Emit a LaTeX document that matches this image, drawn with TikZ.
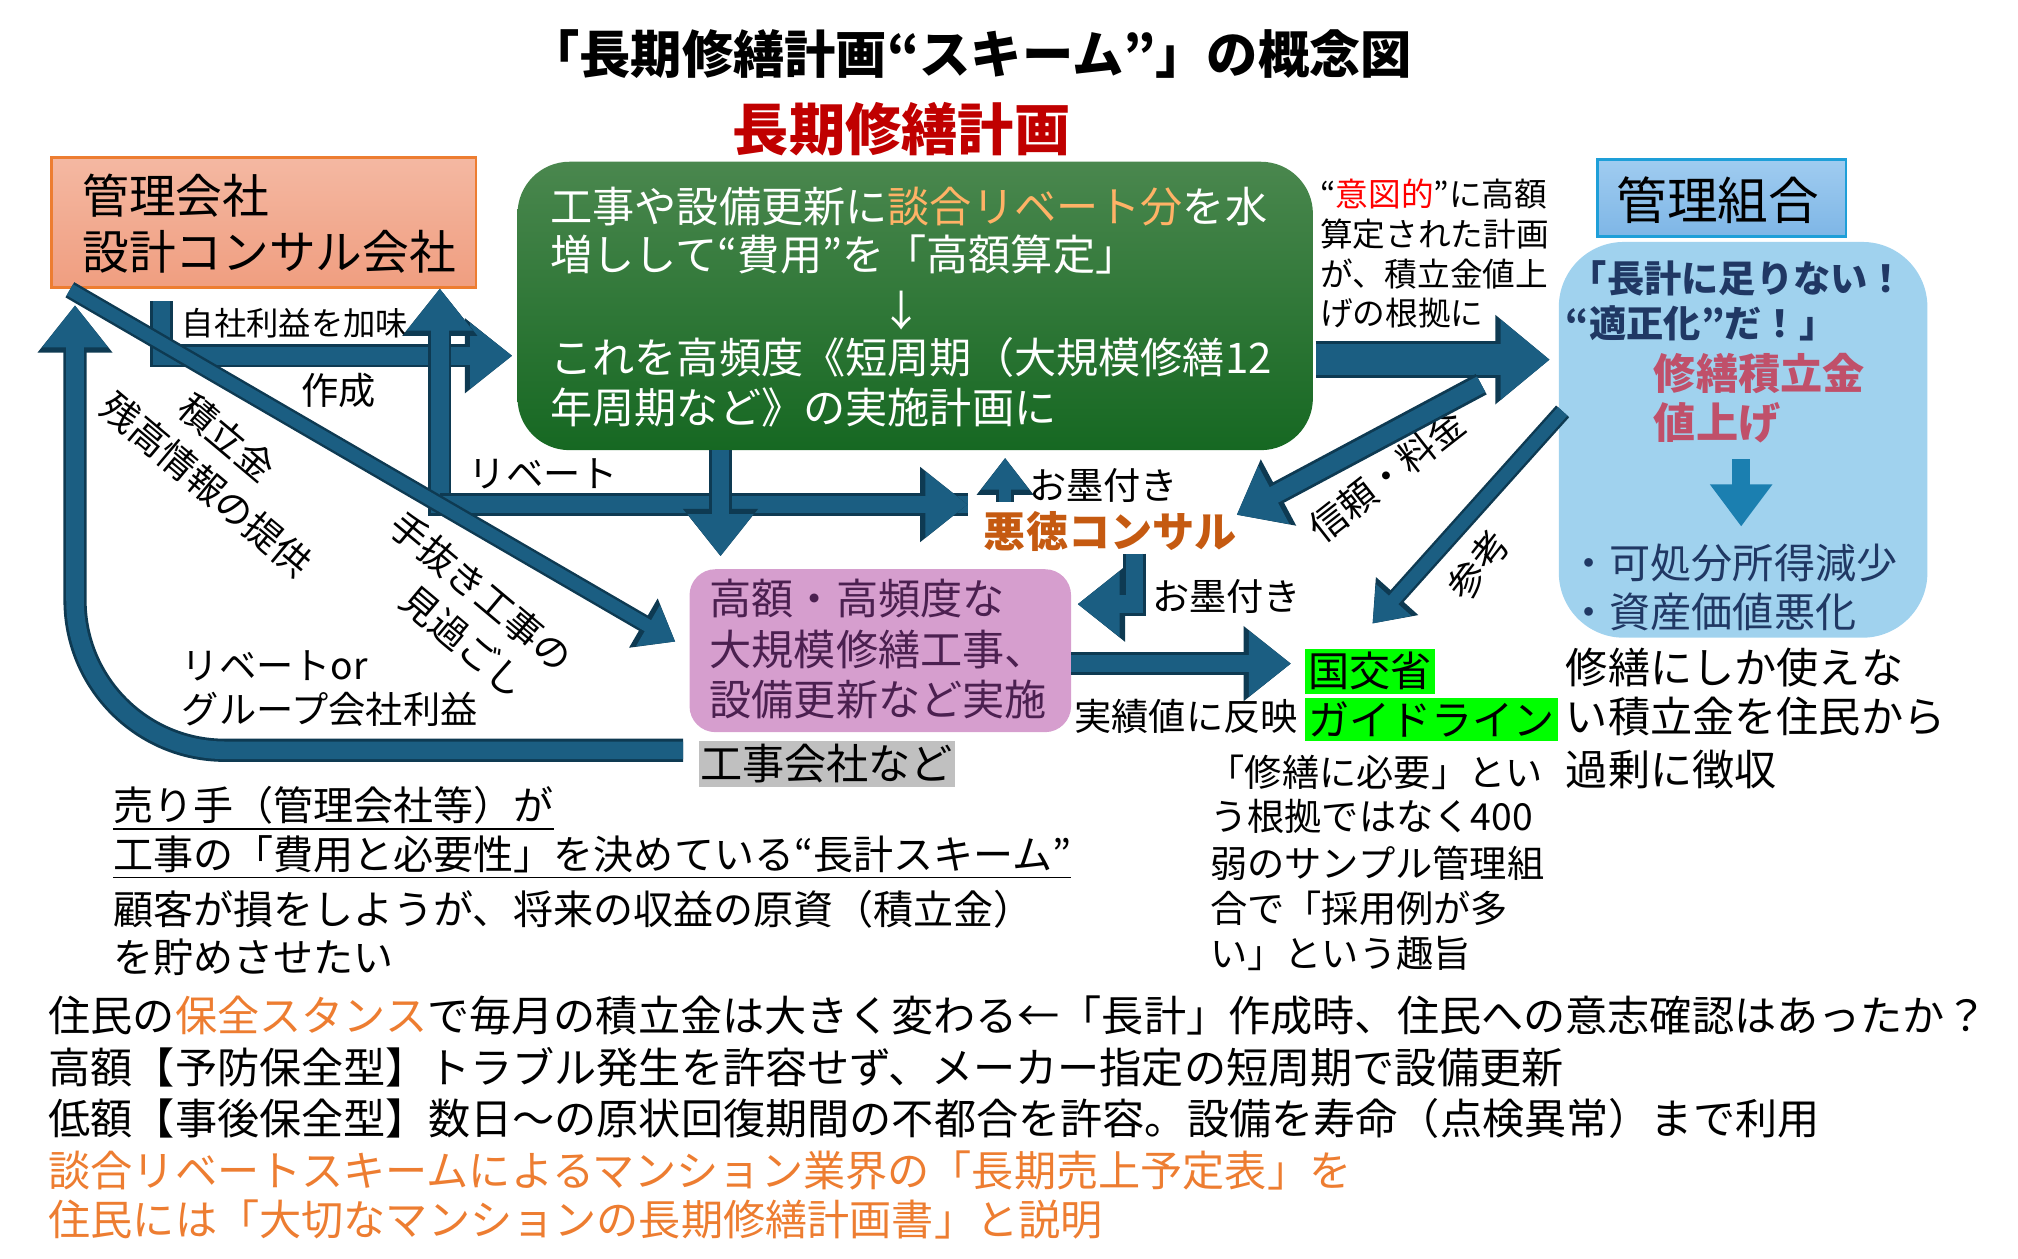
\documentclass[tikz,border=0pt]{standalone}
\usepackage{fontspec}
\setmainfont{Noto Sans CJK JP}
\usetikzlibrary{arrows.meta}
\newcommand\fsz[1]{\fontsize{#1}{#1}\selectfont}
\definecolor{arr}{HTML}{1B5E82}
\definecolor{arrd}{HTML}{0E3A52}
\definecolor{orng}{HTML}{ED7D31}
\definecolor{dred}{HTML}{C00000}
\definecolor{bltx}{HTML}{203864}
\definecolor{pinktx}{HTML}{C0506A}
\definecolor{purtx}{HTML}{4B2050}
\definecolor{consul}{HTML}{C55A11}
\tikzset{
 txt/.style={anchor=west,inner sep=0pt},
 arrA/.style={draw=arr,line width=5pt,-{Triangle[length=12pt,width=18pt]},
   preaction={draw=arrd,line width=6.6pt,-{Triangle[length=13.5pt,width=20.5pt]}}},
 arrB/.style={draw=arr,line width=9pt,-{Triangle[length=14pt,width=22pt]},
   preaction={draw=arrd,line width=10.6pt,-{Triangle[length=15.5pt,width=24.5pt]}}},
 arrC/.style={draw=arr,line width=3.6pt,-{Triangle[length=9pt,width=13pt]},
   preaction={draw=arrd,line width=5pt,-{Triangle[length=10.5pt,width=15.5pt]}}},
}
\begin{document}
\begin{tikzpicture}[x=0.012936cm,y=-0.012936cm]
\useasboundingbox (0,0) rectangle (1560,972.5);
% title
\node[inner sep=0] (title) at (750,42) {\fsz{14.6}\bfseries 「長期修繕計画“スキーム”」の概念図};
\node[inner sep=0,text=dred] (ltitle) at (697,100) {\fsz{16}\bfseries 長期修繕計画};
% boxes
\node[draw=orng,line width=0.8pt,top color={rgb,255:red,244;green,184;blue,162},bottom color={rgb,255:red,240;green,158;blue,128},minimum width=328*0.12936mm,minimum height=100*0.12936mm] (mgmt) at (204,172) {};
\node[txt] (m1) at (55,151) {\fsz{13.3} 管理会社};
\node[txt] (m2) at (55,195) {\fsz{13.3} 設計コンサル会社};
\node[rounded corners=5.2mm,top color={rgb,255:red,74;green,135;blue,78},bottom color={rgb,255:red,22;green,104;blue,34},minimum width=615*0.12936mm,minimum height=223*0.12936mm] (green) at (707.5,236.5) {};
\node[txt,text=white] (g1) at (425,160) {\fsz{12}工事や設備更新に\textcolor{orange!60!white}{談合リベート分}を水};
\node[txt,text=white] (g2) at (425,197) {\fsz{12}増しして“費用”を「高額算定」};
\node[inner sep=0,text=white] (g3) at (697,240) {\fsz{12}↓};
\node[txt,text=white] (g4) at (425,276) {\fsz{12}これを高頻度《短周期（大規模修繕12};
\node[txt,text=white] (g5) at (425,315) {\fsz{12}年周期など》の実施計画に};
\node[draw={rgb,255:red,30;green,159;blue,216},line width=0.8pt,top color={rgb,255:red,160;green,204;blue,240},bottom color={rgb,255:red,126;green,182;blue,230},minimum width=192*0.12936mm,minimum height=60*0.12936mm] (kumiai) at (1331,153) {};
\node[inner sep=0] (k1) at (1328,155) {\fsz{14.4}管理組合};
\node[rounded corners=6.5mm,fill={rgb,255:red,160;green,210;blue,238},minimum width=285*0.12936mm,minimum height=306*0.12936mm] (blue) at (1347.5,340) {};
\node[txt,text=bltx] (b1) at (1213,215) {\fsz{10.6}\bfseries 「長計に足りない！};
\node[txt,text=bltx] (b2) at (1210,250) {\fsz{10.6}\bfseries “適正化”だ！」};
\node[txt,text=pinktx] (b3) at (1278,289) {\fsz{12}\bfseries 修繕積立金};
\node[txt,text=pinktx] (b4) at (1278,327) {\fsz{12}\bfseries 値上げ};
\coordinate (bd1) at (1346,355);
\coordinate (bd2) at (1346,407);
\draw[draw={rgb,255:red,27;green,127;blue,176},line width=5pt,-{Triangle[length=12pt,width=17pt]}] (bd1) -- (bd2);
\node[txt,text=bltx] (b5) at (1212,435) {\fsz{11.7}・可処分所得減少};
\node[txt,text=bltx] (b6) at (1212,473) {\fsz{11.7}・資産価値悪化};
\node[rounded corners=2.6mm,fill={rgb,255:red,214;green,158;blue,206},minimum width=295*0.12936mm,minimum height=126*0.12936mm] (pink) at (680.5,503) {};
\node[txt,text=purtx] (p1) at (548,463) {\fsz{12}高額・高頻度な};
\node[txt,text=purtx] (p2) at (548,502) {\fsz{12}大規模修繕工事、};
\node[txt,text=purtx] (p3) at (548,541) {\fsz{12}設備更新など実施};
\node[fill={rgb,255:red,192;green,192;blue,192},minimum width=198*0.12936mm,minimum height=35*0.12936mm,inner sep=0] (koji) at (639,590.5) {\fsz{12}工事会社など};
\node[txt,text=consul] (akutoku) at (760,411) {\fsz{12}\bfseries 悪徳コンサル};
\node[txt,fill=green,inner sep=1pt] (mlit) at (1008,519) {\fsz{11.7}国交省};
\node[txt,fill=green,inner sep=1pt] (guide) at (1008,556) {\fsz{11.7}ガイドライン};
\node[txt] (jisseki) at (830,554) {\fsz{10.6}実績値に反映};
% annotation top right
\node[txt] (a1) at (1020,150) {\fsz{9.3}“\textcolor{red}{意図的}”に高額};
\node[txt] (a2) at (1020,181) {\fsz{9.3}算定された計画};
\node[txt] (a3) at (1020,212) {\fsz{9.3}が、積立金値上};
\node[txt] (a4) at (1020,242) {\fsz{9.3}げの根拠に};
% right texts
\node[txt] (r1) at (1210,516) {\fsz{12}修繕にしか使えな};
\node[txt] (r2) at (1210,554) {\fsz{12}い積立金を住民から};
\node[txt] (r3) at (1210,595) {\fsz{12}過剰に徴収};
\node[txt] (s1) at (933,597) {\fsz{10.6}「修繕に必要」とい};
\node[txt] (s2) at (935,631) {\fsz{10.6}う根拠ではなく400};
\node[txt] (s3) at (935,667) {\fsz{10.6}弱のサンプル管理組};
\node[txt] (s4) at (935,702) {\fsz{10.6}合で「採用例が多};
\node[txt] (s5) at (935,737) {\fsz{10.6}い」という趣旨};
% bottom-left
\node[txt] (u1) at (87,625) {\fsz{11.4}\underline{売り手（管理会社等）が}};
\node[txt] (u2) at (87,663) {\fsz{11.4}\underline{工事の「費用と必要性」を決めている“長計スキーム”}};
\node[txt] (u3) at (87,703) {\fsz{11.4}顧客が損をしようが、将来の収益の原資（積立金）};
\node[txt] (u4) at (87,740) {\fsz{11.4}を貯めさせたい};
% bottom lines
\node[txt] (l1) at (37,785) {\fsz{12}住民の\textcolor{orng}{保全スタンス}で毎月の積立金は大きく変わる←「長計」作成時、住民への意志確認はあったか？};
\node[txt] (l2) at (37,825) {\fsz{12}高額【予防保全型】トラブル発生を許容せず、メーカー指定の短周期で設備更新};
\node[txt] (l3) at (37,865) {\fsz{12}低額【事後保全型】数日～の原状回復期間の不都合を許容。設備を寿命（点検異常）まで利用};
\node[txt,text=orng] (l4) at (37,905) {\fsz{12}談合リベートスキームによるマンション業界の「長期売上予定表」を};
\node[txt,text=orng] (l5) at (37,943) {\fsz{12}住民には「大切なマンションの長期修繕計画書」と説明};
% arrow labels
\node[txt] (t1) at (140,250) {\fsz{9.2}自社利益を加味};
\node[inner sep=0] (t2) at (262,302) {\fsz{10.6}作成};
\node[inner sep=0,rotate=-40,align=left,font=\fontsize{10.6}{14}\selectfont] (t3) at (172,360) {\hspace*{1.6em}積立金\\残高情報の提供};
\node[inner sep=0,rotate=-40,align=center,font=\fontsize{10.6}{14}\selectfont] (t5) at (360,472) {手抜き工事の\\\hspace*{1em}見過ごし};
\node[inner sep=0] (t7) at (420,366) {\fsz{10.6}リベート};
\node[txt] (t8) at (140,515) {\fsz{10.6}リベートor};
\node[txt] (t9) at (140,548) {\fsz{10.6}グループ会社利益};
\node[inner sep=0,rotate=38] (t10) at (1072,368) {\fsz{10.6}信頼・料金};
\node[inner sep=0,rotate=52] (t11) at (1143,437) {\fsz{10.6}参考};
\node[txt] (t12) at (795,375) {\fsz{10.6}お墨付き};
\node[txt] (t13) at (890,461) {\fsz{10.6}お墨付き};
% connector coordinates
\coordinate (c1a) at (125,233);
\coordinate (c1b) at (125,275);
\coordinate (c1c) at (396,275);
\coordinate (c2a) at (340,390);
\coordinate (c2b) at (340,223);
\coordinate (c2c) at (748,390);
\coordinate (c3a) at (557,348);
\coordinate (c3b) at (557,430);
\coordinate (c4a) at (54,224);
\coordinate (c4b) at (522,496);
\coordinate (c5a) at (528,580);
\coordinate (c5b) at (58,580);
\coordinate (c5c) at (58,236);
\coordinate (c6a) at (1017,278);
\coordinate (c6b) at (1198,278);
\coordinate (c7a) at (1145,297);
\coordinate (c7b) at (956,398);
\coordinate (c8a) at (1208,318);
\coordinate (c8b) at (1061,482);
\coordinate (c9a) at (828,513);
\coordinate (c9b) at (998,513);
\coordinate (c10a) at (777,388);
\coordinate (c10b) at (777,354);
\coordinate (c11a) at (877,428);
\coordinate (c11b) at (877,467);
\coordinate (c11c) at (833,467);
% arrows
\draw[arrA] (c1a) -- (c1b) -- (c1c);
\draw[arrA] (c2c) -| (c2b);
\draw[arrA] (c2a) -- (c2c);
\draw[arrA] (c3a) -- (c3b);
\draw[arrC] (c4a) -- (c4b);
\draw[arrA,rounded corners=15mm] (c5a) -- (c5b) -- (c5c);
\draw[arrB] (c6a) -- (c6b);
\draw[arrA] (c7a) -- (c7b);
\draw[arrC] (c8a) -- (c8b);
\draw[arrA] (c9a) -- (c9b);
\draw[arrC] (c10a) -- (c10b);
\draw[arrA] (c11a) -- (c11b) -- (c11c);
\end{tikzpicture}
\end{document}
